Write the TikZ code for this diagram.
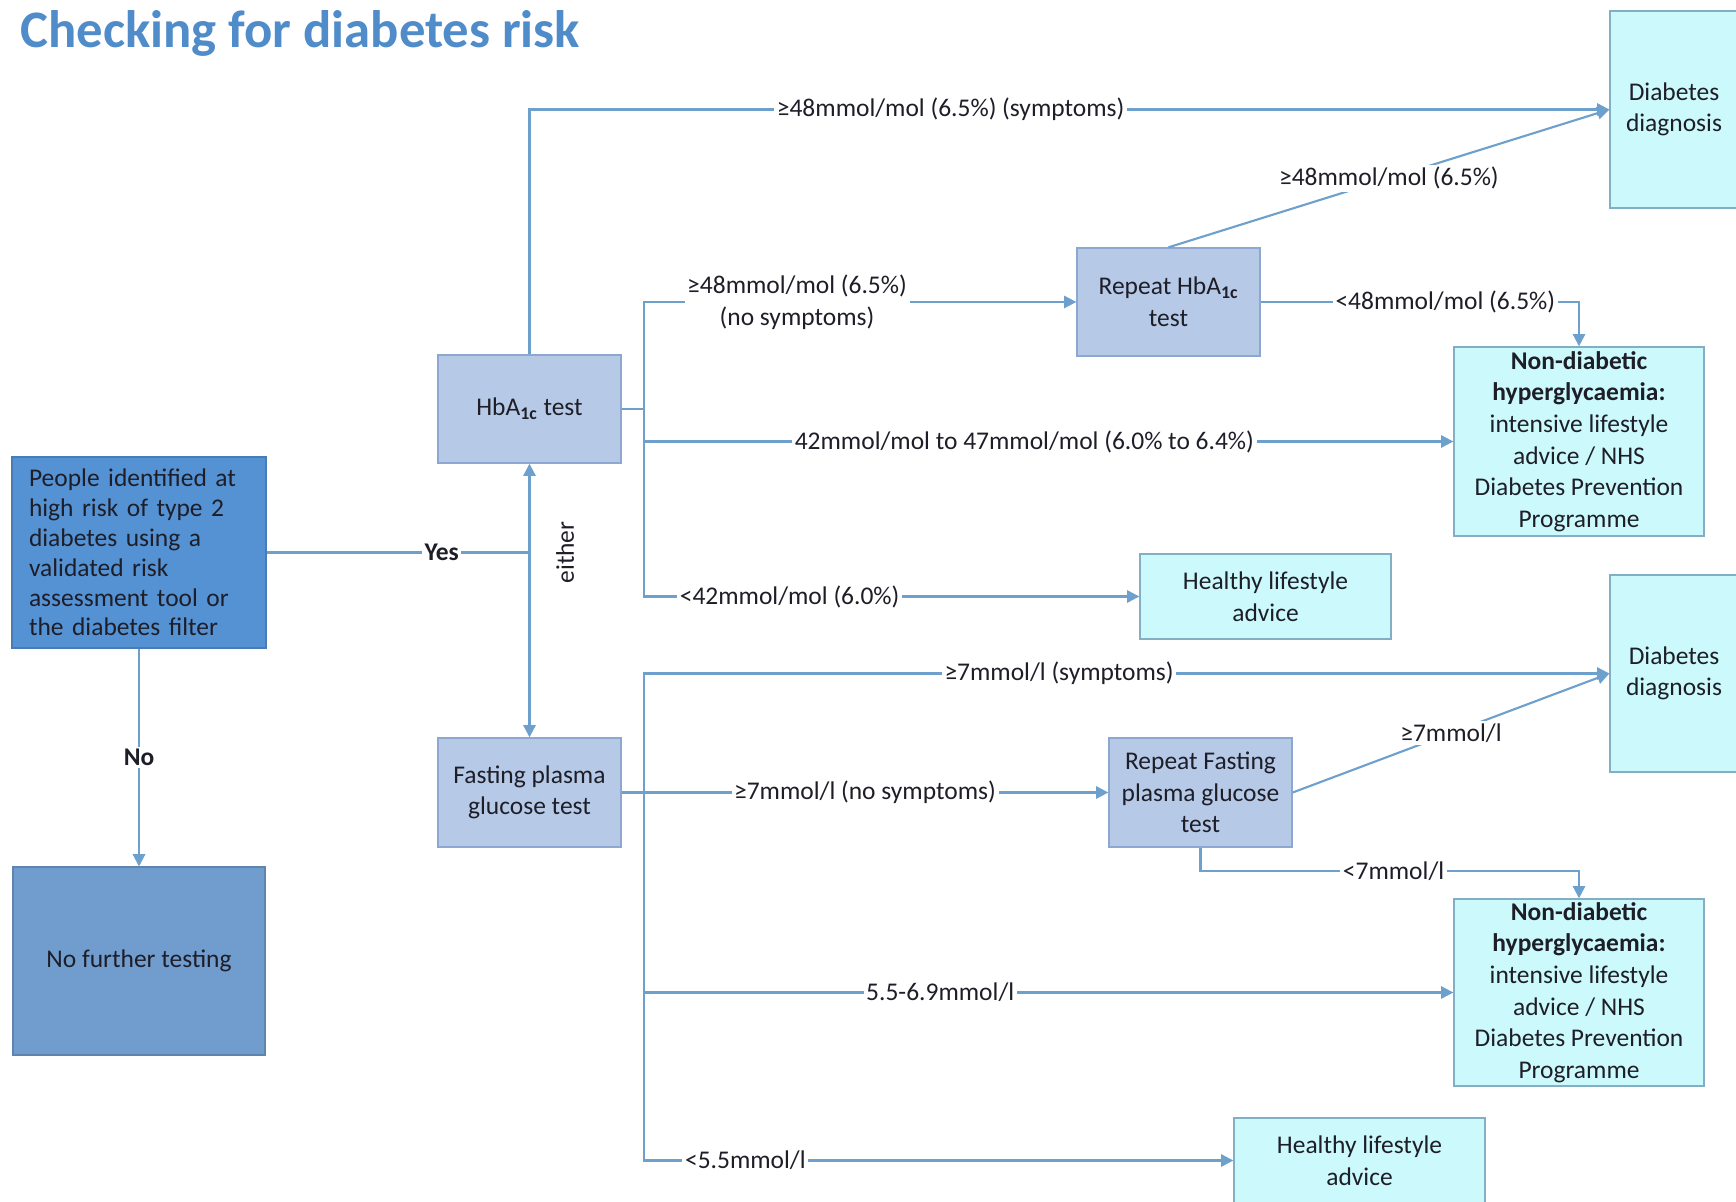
\documentclass[tikz,border=0pt]{standalone}
\usepackage{fontspec}
\setmainfont{Carlito}
\definecolor{titleblue}{RGB}{79, 140, 201}
\definecolor{peoplefill}{RGB}{84, 146, 212}
\definecolor{nofill}{RGB}{112, 157, 206}
\definecolor{testfill}{RGB}{182, 202, 232}
\definecolor{testborder}{RGB}{140, 168, 208}
\definecolor{endfill}{RGB}{204, 250, 252}
\definecolor{endborder}{RGB}{130, 175, 195}
\definecolor{linecol}{RGB}{110, 160, 205}
\definecolor{txtcol}{RGB}{30, 30, 40}
\usetikzlibrary{arrows.meta, positioning}
\newcommand{\boxfont}{\fontsize{14.5}{18}\selectfont}
\newcommand{\hba}{HbA\textsubscript{\textbf{1c}}}

\begin{document}
\begin{tikzpicture}[x=0.02cm, y=-0.02cm,
        conn/.style={line width=1.2pt, linecol},
        arr/.style={conn, -{Triangle[length=7pt, width=7pt]}},
        lbl/.style={fill=white, inner sep=1.5pt, font=\boxfont, text=txtcol},
        testbox/.style={draw=testborder, fill=testfill, line width=0.8pt,
                        align=center, font=\boxfont, text=txtcol, inner sep=1pt},
        endbox/.style={draw=endborder, fill=endfill, line width=0.8pt,
                       align=center, font=\boxfont, text=txtcol, inner sep=1pt}
      ]
        \useasboundingbox[fill=white] (0,0) rectangle (1736,1202);

        % Title
        \node[anchor=base west, font=\fontsize{30}{34}\selectfont\bfseries,
              titleblue, inner sep=0pt] (title) at (20,48) {Checking for diabetes risk};

        % Start
        \node[draw=peoplefill!85!black, fill=peoplefill, line width=0.6pt,
              minimum width=5.08cm, minimum height=3.82cm, text width=4.4cm,
              align=left, font=\fontsize{14.5}{17}\selectfont, text=txtcol]
              (people) at (139,552.5)
              {People identified at\\high risk of type 2\\diabetes using a\\validated risk\\assessment tool or\\the diabetes filter};
        \node[draw=nofill!85!black, fill=nofill, line width=0.6pt,
              minimum width=5.04cm, minimum height=3.76cm,
              font=\boxfont, text=txtcol] (nofurther) at (139,961) {No further testing};

        % Tests
        \node[testbox, minimum width=3.66cm, minimum height=2.16cm] (hba) at (529.5,409) {\hba{} test};
        \node[testbox, minimum width=3.66cm, minimum height=2.18cm] (fpg) at (529.5,792.5) {Fasting plasma\\glucose test};
        \node[testbox, minimum width=3.66cm, minimum height=2.16cm] (rephba) at (1168.5,302) {Repeat \hba\\test};
        \node[testbox, minimum width=3.66cm, minimum height=2.18cm] (repfpg) at (1200.5,792.5) {Repeat Fasting\\plasma glucose\\test};

        % Outcomes
        \node[endbox, minimum width=2.56cm, minimum height=3.94cm] (diagA) at (1674,109.5) {Diabetes\\diagnosis};
        \node[endbox, minimum width=2.56cm, minimum height=3.94cm] (diagB) at (1674,673.5) {Diabetes\\diagnosis};
        \node[endbox, minimum width=5cm, minimum height=3.78cm] (ndhA) at (1579,441.5)
              {\textbf{Non-diabetic}\\\textbf{hyperglycaemia:}\\intensive lifestyle\\advice / NHS\\Diabetes Prevention\\Programme};
        \node[endbox, minimum width=5cm, minimum height=3.74cm] (ndhB) at (1579,992.5)
              {\textbf{Non-diabetic}\\\textbf{hyperglycaemia:}\\intensive lifestyle\\advice / NHS\\Diabetes Prevention\\Programme};
        \node[endbox, minimum width=5.02cm, minimum height=1.7cm] (healthyA) at (1265.5,596.5) {Healthy lifestyle\\advice};
        \node[endbox, minimum width=5.02cm, minimum height=1.7cm] (healthyB) at (1359.5,1160.5) {Healthy lifestyle\\advice};

        % Yes / No
        \coordinate (either) at (529.5,552.5);
        \draw[conn] (people.east) -- (either) node[lbl, pos=0.666] {\textbf{Yes}};
        \draw[arr] (either) -- (hba.south);
        \draw[arr] (either) -- (fpg.north);
        \node[rotate=90, font=\boxfont, text=txtcol] (eitherlbl) at (565,552.5) {either};
        \draw[arr] (people.south) -- (nofurther.north) node[lbl, pos=0.5] {\textbf{No}};

        % HbA1c branches
        \coordinate (hbx) at (644,409);
        \draw[arr] (hba.north) |- (diagA.west) node[lbl, pos=0.695] {≥48mmol/mol (6.5\%) (symptoms)};
        \draw[conn] (hba.east) -- (hbx);
        \draw[arr] (hbx) |- (rephba.west) node[lbl, pos=0.677, align=center] {≥48mmol/mol (6.5\%)\\(no symptoms)};
        \draw[arr] (hbx) |- (ndhA.west) node[lbl, pos=0.735] {42mmol/mol to 47mmol/mol (6.0\% to 6.4\%)};
        \draw[arr] (hbx) |- (healthyA.west) node[lbl, pos=0.647] {<42mmol/mol (6.0\%)};
        \draw[arr] (rephba.north) -- (diagA.west) node[lbl, pos=0.5] {≥48mmol/mol (6.5\%)};
        \draw[arr] (rephba.east) -| (ndhA.north) node[lbl, pos=0.29] {<48mmol/mol (6.5\%)};

        % Fasting plasma glucose branches
        \coordinate (fpx) at (644,792.5);
        \draw[arr] (fpx) |- (diagB.west) node[lbl, pos=0.715] {≥7mmol/l (symptoms)};
        \draw[arr] (fpg.east) -- (repfpg.west) node[lbl, pos=0.5] {≥7mmol/l (no symptoms)};
        \draw[arr] (fpx) |- (ndhB.west) node[lbl, pos=0.683] {5.5-6.9mmol/l};
        \draw[arr] (fpx) |- (healthyB.west) node[lbl, pos=0.586] {<5.5mmol/l};
        \draw[arr] (repfpg.east) -- (diagB.west) node[lbl, pos=0.5] {≥7mmol/l};
        \draw[arr] (repfpg.south) -- ++(0,23) -| (ndhB.north) node[lbl, pos=0.255] {<7mmol/l};
      \end{tikzpicture}
\end{document}
